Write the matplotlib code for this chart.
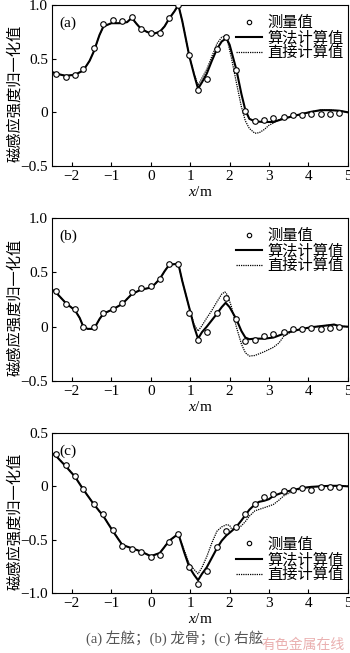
import numpy as np
import matplotlib
matplotlib.use('Agg')
from matplotlib import pyplot as plt

plt.rcParams['font.family'] = ['Liberation Serif', 'Noto Sans CJK SC']
plt.rcParams['mathtext.fontset'] = 'custom'
plt.rcParams['mathtext.it'] = 'Liberation Serif:italic'
plt.rcParams['mathtext.rm'] = 'Liberation Serif'
plt.rcParams['axes.unicode_minus'] = True

# measured points (same x for all three panels)
x_meas = [-2.39, -2.16, -1.92, -1.71, -1.44, -1.20, -0.96, -0.72, -0.48, -0.25,
          0.00, 0.23, 0.47, 0.70, 0.98, 1.20, 1.42, 1.68, 1.92, 2.17,
          2.40, 2.64, 2.88, 3.11, 3.37, 3.61, 3.84, 4.07, 4.31, 4.55, 4.78]

# (a) port side
ya_meas = [0.36, 0.33, 0.35, 0.40, 0.60, 0.82, 0.86, 0.85, 0.89, 0.78,
           0.74, 0.74, 0.875, 1.00, 0.53, 0.21, 0.31, 0.59, 0.70, 0.39,
           0.01, -0.08, -0.075, -0.055, -0.045, -0.025, -0.025, -0.015, -0.015, -0.015, -0.005]
xa_alg = [-2.5, -2.39, -2.16, -1.92, -1.71, -1.55, -1.44, -1.3, -1.2, -1.0, -0.8, -0.6,
          -0.48, -0.35, -0.25, -0.1, 0.0, 0.1, 0.23, 0.35, 0.47, 0.6, 0.7, 0.8, 0.98,
          1.1, 1.2, 1.3, 1.42, 1.55, 1.68, 1.8, 1.92, 2.0, 2.17, 2.3, 2.4, 2.5, 2.64,
          2.88, 3.11, 3.37, 3.61, 3.84, 4.07, 4.31, 4.55, 4.78, 5.0]
ya_alg = [0.375, 0.36, 0.34, 0.35, 0.39, 0.48, 0.57, 0.72, 0.80, 0.83, 0.83, 0.84,
          0.88, 0.82, 0.78, 0.75, 0.735, 0.735, 0.75, 0.80, 0.875, 0.94, 1.0, 0.85, 0.52,
          0.35, 0.22, 0.28, 0.36, 0.48, 0.59, 0.66, 0.69, 0.63, 0.40, 0.17, 0.02, -0.06, -0.085,
          -0.09, -0.09, -0.06, -0.035, -0.015, 0.005, 0.02, 0.02, 0.015, 0.0]
xa_dir = [-2.5, -2.39, -2.16, -1.92, -1.71, -1.55, -1.44, -1.3, -1.2, -1.0, -0.8, -0.6,
          -0.48, -0.35, -0.25, -0.1, 0.0, 0.1, 0.23, 0.35, 0.47, 0.6, 0.7, 0.8, 0.98,
          1.1, 1.2, 1.3, 1.42, 1.55, 1.68, 1.8, 1.88, 1.95, 2.05, 2.17, 2.3, 2.4, 2.5,
          2.64, 2.75, 2.88, 3.0, 3.11, 3.25, 3.37, 3.61, 3.84, 4.07, 4.31, 4.55, 4.78, 5.0]
ya_dir = [0.375, 0.36, 0.34, 0.35, 0.39, 0.48, 0.57, 0.72, 0.80, 0.83, 0.83, 0.84,
          0.88, 0.82, 0.78, 0.75, 0.735, 0.735, 0.75, 0.80, 0.875, 0.94, 1.0, 0.85, 0.52,
          0.36, 0.25, 0.32, 0.40, 0.52, 0.64, 0.70, 0.71, 0.66, 0.50, 0.28, 0.05, -0.08, -0.15,
          -0.195, -0.19, -0.16, -0.12, -0.10, -0.07, -0.05, -0.035, -0.015, 0.005, 0.02, 0.02, 0.015, 0.0]

# (b) keel
yb_meas = [0.33, 0.21, 0.16, 0.0, 0.0, 0.13, 0.16, 0.22, 0.32, 0.36,
           0.37, 0.44, 0.58, 0.58, 0.13, -0.125, -0.05, 0.13, 0.26, 0.07,
           -0.135, -0.125, -0.085, -0.065, -0.045, -0.02, -0.02, -0.015, -0.02, -0.01, -0.005]
xb_alg = [-2.5, -2.39, -2.16, -1.92, -1.8, -1.71, -1.6, -1.44, -1.3, -1.2, -0.96, -0.72,
          -0.48, -0.25, 0.0, 0.1, 0.23, 0.35, 0.47, 0.7, 0.8, 0.98, 1.1, 1.2, 1.3, 1.42,
          1.55, 1.68, 1.8, 1.9, 2.0, 2.17, 2.3, 2.4, 2.5, 2.64, 2.88, 3.11, 3.37, 3.61,
          3.84, 4.07, 4.31, 4.55, 4.65, 4.78, 5.0]
yb_alg = [0.34, 0.31, 0.22, 0.15, 0.08, 0.0, -0.02, -0.02, 0.07, 0.12, 0.16, 0.21,
          0.30, 0.34, 0.36, 0.39, 0.44, 0.51, 0.57, 0.58, 0.42, 0.17, 0.0, -0.11, -0.05, 0.0,
          0.06, 0.12, 0.18, 0.22, 0.18, 0.07, -0.04, -0.10, -0.115, -0.11, -0.11, -0.10, -0.065, -0.04,
          -0.02, -0.005, 0.005, 0.015, 0.02, 0.005, 0.0]
xb_dir = [-2.5, -2.39, -2.16, -1.92, -1.8, -1.71, -1.6, -1.44, -1.3, -1.2, -0.96, -0.72,
          -0.48, -0.25, 0.0, 0.1, 0.23, 0.35, 0.47, 0.7, 0.8, 0.98, 1.1, 1.2, 1.3, 1.42,
          1.55, 1.68, 1.8, 1.88, 1.95, 2.05, 2.17, 2.3, 2.4, 2.5, 2.64, 2.88, 3.11, 3.25,
          3.37, 3.5, 3.61, 3.84, 4.07, 4.31, 4.55, 4.65, 4.78, 5.0]
yb_dir = [0.34, 0.31, 0.22, 0.15, 0.08, 0.0, -0.02, -0.02, 0.07, 0.12, 0.16, 0.21,
          0.30, 0.34, 0.36, 0.39, 0.44, 0.51, 0.57, 0.58, 0.42, 0.17, 0.02, -0.04, 0.01, 0.08,
          0.15, 0.23, 0.30, 0.32, 0.29, 0.18, 0.0, -0.16, -0.24, -0.27, -0.265, -0.23, -0.19, -0.15,
          -0.09, -0.06, -0.04, -0.02, -0.005, 0.005, 0.015, 0.02, 0.005, 0.0]

# (c) starboard side
yc_meas = [0.30, 0.20, 0.094, -0.025, -0.17, -0.26, -0.41, -0.56, -0.585, -0.62,
           -0.665, -0.645, -0.52, -0.45, -0.76, -0.915, -0.795, -0.565, -0.42, -0.385,
           -0.26, -0.165, -0.10, -0.07, -0.045, -0.035, -0.02, -0.03, -0.01, -0.01, -0.01]
xc_alg = [-2.5, -2.39, -2.16, -1.92, -1.71, -1.44, -1.2, -0.96, -0.72, -0.48, -0.25, 0.0,
          0.23, 0.47, 0.7, 0.85, 0.98, 1.1, 1.2, 1.3, 1.42, 1.55, 1.68, 1.8, 1.92, 2.05,
          2.17, 2.3, 2.4, 2.5, 2.64, 2.75, 2.88, 3.0, 3.11, 3.37, 3.61, 3.84, 4.07, 4.31,
          4.55, 4.78, 5.0]
yc_alg = [0.31, 0.28, 0.19, 0.09, -0.03, -0.17, -0.28, -0.42, -0.55, -0.58, -0.61, -0.655,
          -0.625, -0.51, -0.445, -0.62, -0.76, -0.83, -0.88, -0.82, -0.76, -0.67, -0.58, -0.51, -0.46, -0.42,
          -0.38, -0.32, -0.27, -0.22, -0.17, -0.145, -0.135, -0.12, -0.09, -0.055, -0.035, -0.015, -0.005, 0.0,
          0.005, 0.005, 0.0]
xc_dir = [-2.5, -2.39, -2.16, -1.92, -1.71, -1.44, -1.2, -0.96, -0.72, -0.48, -0.25, 0.0,
          0.23, 0.47, 0.7, 0.85, 0.98, 1.1, 1.2, 1.3, 1.42, 1.55, 1.68, 1.8, 1.92, 2.0,
          2.05, 2.17, 2.3, 2.4, 2.5, 2.64, 2.88, 3.0, 3.11, 3.25, 3.37, 3.5, 3.61, 3.84,
          4.07, 4.31, 4.55, 4.78, 5.0]
yc_dir = [0.31, 0.28, 0.19, 0.09, -0.03, -0.17, -0.28, -0.42, -0.55, -0.58, -0.61, -0.655,
          -0.625, -0.51, -0.445, -0.60, -0.73, -0.78, -0.82, -0.76, -0.66, -0.53, -0.42, -0.38, -0.36, -0.365,
          -0.40, -0.40, -0.37, -0.33, -0.28, -0.23, -0.20, -0.185, -0.17, -0.13, -0.09, -0.065, -0.045, -0.02,
          -0.005, 0.0, 0.005, 0.005, 0.0]

labels = ['测量值', '算法计算值', '直接计算值']
ylabel = '磁感应强度归一化值'
caption = '(a) 左舷；(b) 龙骨；(c) 右舷'

panels = [
    ('(a)', ya_meas, xa_alg, ya_alg, xa_dir, ya_dir, (-0.5, 1.0), [-0.5, 0, 0.5, 1.0]),
    ('(b)', yb_meas, xb_alg, yb_alg, xb_dir, yb_dir, (-0.5, 1.0), [-0.5, 0, 0.5, 1.0]),
    ('(c)', yc_meas, xc_alg, yc_alg, xc_dir, yc_dir, (-1.0, 0.5), [-1.0, -0.5, 0, 0.5]),
]
# axes boxes in figure fractions: left, bottom, width, height
boxes = [[0.149, 0.7458, 0.845, 0.2466],
         [0.149, 0.4165, 0.845, 0.2496],
         [0.149, 0.0919, 0.845, 0.2450]]

fig = plt.figure(figsize=(3.5, 6.53), dpi=100)

for i, (tag, ym, xal, yal, xdr, ydr, ylim, yt) in enumerate(panels):
    ax = fig.add_axes(boxes[i])
    ax.plot(xdr, ydr, color='black', lw=0.9, ls=(0, (1, 0.8)), label=labels[2], zorder=2)
    ax.plot(xal, yal, color='black', lw=1.5, label=labels[1], zorder=3)
    ax.plot(x_meas, ym, 'o', ms=4, mfc='white', mec='black', mew=0.8,
            label=labels[0], zorder=4)
    ax.set_xlim(-2.5, 5)
    ax.set_ylim(*ylim)
    ax.set_xticks([-2, -1, 0, 1, 2, 3, 4, 5])
    ax.set_yticks(yt)
    ax.yaxis.set_major_formatter(matplotlib.ticker.FuncFormatter(
        lambda v, p: '0' if abs(v) < 1e-9 else f'{v:.1f}'.replace('-', '\u2212')))
    ax.tick_params(direction='in', length=3, width=0.8, labelsize=11, pad=3)
    for s in ax.spines.values():
        s.set_linewidth(0.8)
    ax.text(0.025, 0.93, tag, transform=ax.transAxes, fontsize=11, va='top', ha='left')
    ax.set_xlabel(r'$x$/m', fontsize=11, labelpad=1)
    ax.set_ylabel(ylabel, fontsize=11)
    ax.yaxis.set_label_coords(-0.10, 0.45)

    h, l = ax.get_legend_handles_labels()
    order = [2, 1, 0]
    if tag == '(c)':
        loc, anchor = 'lower right', (1.01, 0.02)
    else:
        loc, anchor = 'upper right', (1.01, 0.98)
    ax.legend([h[k] for k in order], [l[k] for k in order], loc=loc,
              bbox_to_anchor=anchor, frameon=False, fontsize=11,
              handlelength=1.7, handletextpad=0.3, labelspacing=0.05,
              borderaxespad=0.1, markerscale=0.8)

fig.text(0.5, 0.023, caption, ha='center', va='center', fontsize=10.5, color='#555555')
fig.text(0.985, 0.012, '有色金属在线', ha='right', va='center', fontsize=10,
         color='#eab0b0')

fig.savefig('out.png', dpi=100)
